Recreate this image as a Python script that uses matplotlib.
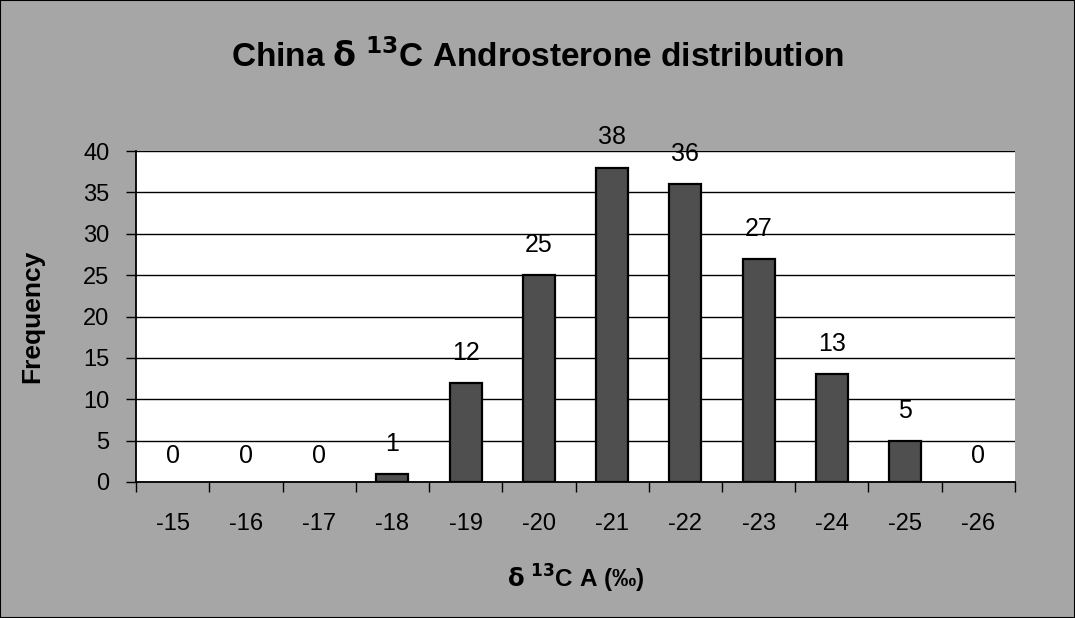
import matplotlib
matplotlib.use("Agg")
import matplotlib.pyplot as plt
from matplotlib.patches import Rectangle

categories = ["-15", "-16", "-17", "-18", "-19", "-20", "-21", "-22", "-23", "-24", "-25", "-26"]
frequency = [0, 0, 0, 1, 12, 25, 38, 36, 27, 13, 5, 0]
yticks = [0, 5, 10, 15, 20, 25, 30, 35, 40]

plt.rcParams['font.family'] = ['Liberation Sans', 'DejaVu Sans']

W, H = 1075, 618
fig = plt.figure(figsize=(W / 100, H / 100), dpi=100, facecolor='#a6a6a6')
L, R, T, B = 136, 1015, 151, 482
ax = fig.add_axes([L / W, 1 - B / H, (R - L) / W, (B - T) / H])
ax.set_facecolor('white')

x = list(range(len(categories)))
lws = [1.6 if v > 0 else 0 for v in frequency]
ax.bar(x, frequency, width=0.44, color='#4f4f4f', edgecolor='black', linewidth=lws, zorder=3)
ax.set_xlim(-0.5, len(categories) - 0.5)
ax.set_ylim(0, 40)
ax.set_yticks(yticks)
ax.set_yticklabels([str(v) for v in yticks], fontsize=17)
ax.yaxis.grid(True, color='black', linewidth=1, zorder=0)
ax.set_axisbelow(True)

ax.set_xticks(x)
ax.set_xticklabels(categories, fontsize=17)
ax.tick_params(axis='x', length=0, pad=22)
ax.set_xticks([i + 0.5 for i in range(-1, len(categories))], minor=True)
ax.tick_params(axis='x', which='minor', length=7, width=1, direction='out')
ax.tick_params(axis='y', length=7, width=1, direction='out', pad=12)

for s in ['top', 'right']:
    ax.spines[s].set_visible(False)
for s in ['left', 'bottom']:
    ax.spines[s].set_linewidth(1.3)

for xi, v in zip(x, frequency):
    ax.annotate(str(v), (xi, v), xytext=(0, 13 if v > 0 else 10), textcoords='offset points',
                ha='center', va='bottom', fontsize=18, annotation_clip=False)

ax.set_ylabel('Frequency', fontsize=19, fontweight='bold', labelpad=28)
ax.set_xlabel(r'$\mathbf{\delta}$ $^{\mathbf{13}}$C A (‰)', fontsize=17.5, fontweight='bold', labelpad=20)
fig.text(0.5, 1 - 57 / H, r'China $\mathbf{\delta}$ $^{\mathbf{13}}$C Androsterone distribution',
         ha='center', va='center', fontsize=24, fontweight='bold')

fig.patches.append(Rectangle((0, 0), 1, 1, transform=fig.transFigure, fill=False,
                             edgecolor='black', linewidth=1.5))

fig.savefig('out.png', dpi=100, facecolor=fig.get_facecolor())
